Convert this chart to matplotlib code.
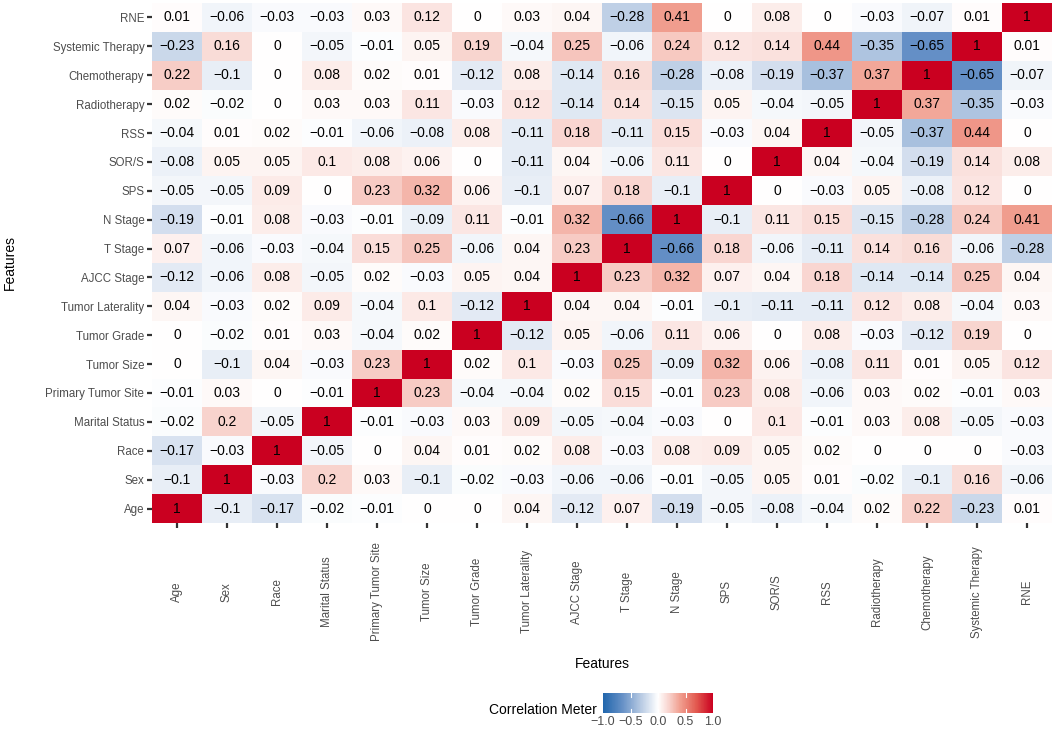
import numpy as np
import matplotlib
matplotlib.use("Agg")
import matplotlib.pyplot as plt
from matplotlib.colors import LinearSegmentedColormap, Normalize

plt.rcParams['font.family'] = ['Liberation Sans', 'DejaVu Sans']

features = ["Age", "Sex", "Race", "Marital Status", "Primary Tumor Site",
            "Tumor Size", "Tumor Grade", "Tumor Laterality", "AJCC Stage",
            "T Stage", "N Stage", "SPS", "SOR/S", "RSS", "Radiotherapy",
            "Chemotherapy", "Systemic Therapy", "RNE"]

# one row per feature, columns in the same order as `features`
age = [1, -0.1, -0.17, -0.02, -0.01, 0, 0, 0.04, -0.12, 0.07, -0.19, -0.05, -0.08, -0.04, 0.02, 0.22, -0.23, 0.01]
sex = [-0.1, 1, -0.03, 0.2, 0.03, -0.1, -0.02, -0.03, -0.06, -0.06, -0.01, -0.05, 0.05, 0.01, -0.02, -0.1, 0.16, -0.06]
race = [-0.17, -0.03, 1, -0.05, 0, 0.04, 0.01, 0.02, 0.08, -0.03, 0.08, 0.09, 0.05, 0.02, 0, 0, 0, -0.03]
marital = [-0.02, 0.2, -0.05, 1, -0.01, -0.03, 0.03, 0.09, -0.05, -0.04, -0.03, 0, 0.1, -0.01, 0.03, 0.08, -0.05, -0.03]
site = [-0.01, 0.03, 0, -0.01, 1, 0.23, -0.04, -0.04, 0.02, 0.15, -0.01, 0.23, 0.08, -0.06, 0.03, 0.02, -0.01, 0.03]
size = [0, -0.1, 0.04, -0.03, 0.23, 1, 0.02, 0.1, -0.03, 0.25, -0.09, 0.32, 0.06, -0.08, 0.11, 0.01, 0.05, 0.12]
grade = [0, -0.02, 0.01, 0.03, -0.04, 0.02, 1, -0.12, 0.05, -0.06, 0.11, 0.06, 0, 0.08, -0.03, -0.12, 0.19, 0]
laterality = [0.04, -0.03, 0.02, 0.09, -0.04, 0.1, -0.12, 1, 0.04, 0.04, -0.01, -0.1, -0.11, -0.11, 0.12, 0.08, -0.04, 0.03]
ajcc = [-0.12, -0.06, 0.08, -0.05, 0.02, -0.03, 0.05, 0.04, 1, 0.23, 0.32, 0.07, 0.04, 0.18, -0.14, -0.14, 0.25, 0.04]
t_stage = [0.07, -0.06, -0.03, -0.04, 0.15, 0.25, -0.06, 0.04, 0.23, 1, -0.66, 0.18, -0.06, -0.11, 0.14, 0.16, -0.06, -0.28]
n_stage = [-0.19, -0.01, 0.08, -0.03, -0.01, -0.09, 0.11, -0.01, 0.32, -0.66, 1, -0.1, 0.11, 0.15, -0.15, -0.28, 0.24, 0.41]
sps = [-0.05, -0.05, 0.09, 0, 0.23, 0.32, 0.06, -0.1, 0.07, 0.18, -0.1, 1, 0, -0.03, 0.05, -0.08, 0.12, 0]
sors = [-0.08, 0.05, 0.05, 0.1, 0.08, 0.06, 0, -0.11, 0.04, -0.06, 0.11, 0, 1, 0.04, -0.04, -0.19, 0.14, 0.08]
rss = [-0.04, 0.01, 0.02, -0.01, -0.06, -0.08, 0.08, -0.11, 0.18, -0.11, 0.15, -0.03, 0.04, 1, -0.05, -0.37, 0.44, 0]
radio = [0.02, -0.02, 0, 0.03, 0.03, 0.11, -0.03, 0.12, -0.14, 0.14, -0.15, 0.05, -0.04, -0.05, 1, 0.37, -0.35, -0.03]
chemo = [0.22, -0.1, 0, 0.08, 0.02, 0.01, -0.12, 0.08, -0.14, 0.16, -0.28, -0.08, -0.19, -0.37, 0.37, 1, -0.65, -0.07]
systemic = [-0.23, 0.16, 0, -0.05, -0.01, 0.05, 0.19, -0.04, 0.25, -0.06, 0.24, 0.12, 0.14, 0.44, -0.35, -0.65, 1, 0.01]
rne = [0.01, -0.06, -0.03, -0.03, 0.03, 0.12, 0, 0.03, 0.04, -0.28, 0.41, 0, 0.08, 0, -0.03, -0.07, 0.01, 1]

corr = np.array([age, sex, race, marital, site, size, grade, laterality, ajcc,
                 t_stage, n_stage, sps, sors, rss, radio, chemo, systemic, rne])

cbar_ticks = [-1.0, -0.5, 0.0, 0.5, 1.0]

# blue - white - red, roughly what ggplot's gradient2 gives
stops = [(-1.0, "#2166AC"), (-0.65, "#6590C6"), (-0.3, "#BACCE4"), (0.0, "#FFFFFF"),
         (0.2, "#F8D3CD"), (0.4, "#F1A091"), (0.7, "#E2594F"), (1.0, "#CA0020")]
cmap = LinearSegmentedColormap.from_list(
    "corr", [((v + 1) / 2, c) for v, c in stops])
norm = Normalize(-1, 1)

fig = plt.figure(figsize=(10.53, 7.32), dpi=100)
ax = fig.add_axes([152/1053, 1 - 523/732, 900/1053, 520/732])

n = len(features)
mesh = ax.pcolormesh(np.arange(n + 1), np.arange(n + 1), corr, cmap=cmap,
                     norm=norm, edgecolors='none')

def fmt(v):
    s = f"{round(v, 2):g}"
    if s == "-0":
        s = "0"
    return s.replace("-", "\u2212")

for i in range(n):
    for j in range(n):
        ax.text(j + 0.5, i + 0.5, fmt(corr[i, j]), ha='center', va='center',
                fontsize=10, color='black')

ax.set_xlim(0, n)
ax.set_ylim(0, n)
ax.set_xticks(np.arange(n) + 0.5)
ax.set_yticks(np.arange(n) + 0.5)
ax.set_xticklabels(features, rotation=90, va='center', ha='center')
ax.set_yticklabels(features)
ax.tick_params(axis='x', length=3.5, width=1.6, color='#333333', pad=46,
               labelsize=8.3, labelcolor='#4D4D4D')
ax.tick_params(axis='y', length=3.5, width=1.6, color='#333333', pad=2,
               labelsize=8.3, labelcolor='#4D4D4D')
for sp in ax.spines.values():
    sp.set_visible(False)

fig.text(602/1053, 1 - 664/732, "Features", ha='center', va='center', fontsize=10)
fig.text(10/1053, 1 - 263/732, "Features", ha='center', va='center',
         rotation=90, fontsize=10)

# colour bar at the bottom
cax = fig.add_axes([603/1053, 1 - 713/732, 110/1053, 20/732])
cb = fig.colorbar(mesh, cax=cax, orientation='horizontal')
cb.outline.set_visible(False)
cb.set_ticks(cbar_ticks)
cb.set_ticklabels([f"{t:.1f}".replace("-", "\u2212") for t in cbar_ticks])
cax.tick_params(length=0, pad=2.5, labelsize=9, labelcolor='#4D4D4D')
for t in cbar_ticks[1:-1]:
    cax.plot([t, t], [0, 0.2], color='white', lw=0.8)
    cax.plot([t, t], [0.8, 1], color='white', lw=0.8)
cax.set_ylim(0, 1)
fig.text(597/1053, 1 - 710/732, "Correlation Meter", ha='right', va='center',
         fontsize=10)

fig.savefig("out.png", dpi=100)
